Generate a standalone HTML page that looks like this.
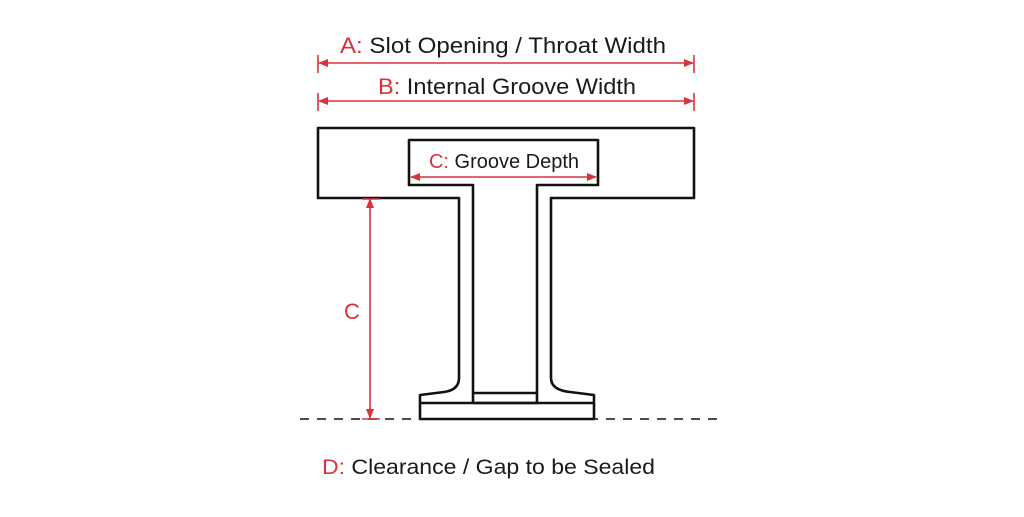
<!DOCTYPE html>
<html><head><meta charset="utf-8"><style>
html,body{margin:0;padding:0;background:#fff;}
svg{display:block;}
text{font-family:"Liberation Sans",sans-serif;}
</style></head><body>
<svg width="1024" height="517" viewBox="0 0 1024 517" xmlns="http://www.w3.org/2000/svg">
<rect width="1024" height="517" fill="#fff"/>
<defs>
<marker id="ar" markerWidth="10" markerHeight="8" refX="9" refY="4" orient="auto-start-reverse" markerUnits="userSpaceOnUse">
<path d="M0,0 L10,4 L0,8 z" fill="#d8333b"/></marker>
</defs>
<g font-size="22" text-anchor="middle">
<text x="503" y="53" textLength="326" lengthAdjust="spacingAndGlyphs"><tspan fill="#d8333b">A:</tspan><tspan fill="#1a1a1a"> Slot Opening / Throat Width</tspan></text>
<text x="507" y="94" textLength="258" lengthAdjust="spacingAndGlyphs"><tspan fill="#d8333b">B:</tspan><tspan fill="#1a1a1a"> Internal Groove Width</tspan></text>
</g>
<!-- dashed baseline -->
<line x1="300" y1="419" x2="722" y2="419" stroke="#333" stroke-width="1.8" stroke-dasharray="9,8"/>
<!-- T shape -->
<g stroke="#111" stroke-width="2.6" fill="#fff" stroke-linejoin="round">
<path d="M318,128 L694,128 L694,198 L551,198 L551,378 Q551,390 570,392 L594,395 L594,419 L420,419 L420,395 L444,392 Q459,390 459,378 L459,198 L318,198 Z"/>
<path d="M409,140 L598,140 L598,185 L537,185 L537,403 L473,403 L473,185 L409,185 Z"/>
<line x1="420" y1="403" x2="594" y2="403"/>
<line x1="473" y1="393" x2="537" y2="393"/>
</g>
<g stroke="#d8333b" stroke-width="1.6" fill="none">
<line x1="318" y1="55" x2="318" y2="73"/><line x1="694" y1="55" x2="694" y2="73"/>
<line x1="319" y1="63" x2="693" y2="63" marker-start="url(#ar)" marker-end="url(#ar)"/>
<line x1="318" y1="93" x2="318" y2="111"/><line x1="694" y1="93" x2="694" y2="111"/>
<line x1="319" y1="101" x2="693" y2="101" marker-start="url(#ar)" marker-end="url(#ar)"/>
<line x1="411" y1="177" x2="596" y2="177" marker-start="url(#ar)" marker-end="url(#ar)"/>
<line x1="370" y1="199" x2="370" y2="418" marker-start="url(#ar)" marker-end="url(#ar)"/>
<line x1="362" y1="199" x2="380" y2="199"/>
<line x1="362" y1="419" x2="380" y2="419"/>
</g>
<text x="504" y="168" font-size="20" text-anchor="middle"><tspan fill="#d8333b">C:</tspan><tspan fill="#1a1a1a"> Groove Depth</tspan></text>
<text x="352" y="319" font-size="22" fill="#d8333b" text-anchor="middle">C</text>
<text x="322" y="474" font-size="21" textLength="333" lengthAdjust="spacingAndGlyphs"><tspan fill="#d8333b">D:</tspan><tspan fill="#1a1a1a"> Clearance / Gap to be Sealed</tspan></text>
</svg>
</body></html>
